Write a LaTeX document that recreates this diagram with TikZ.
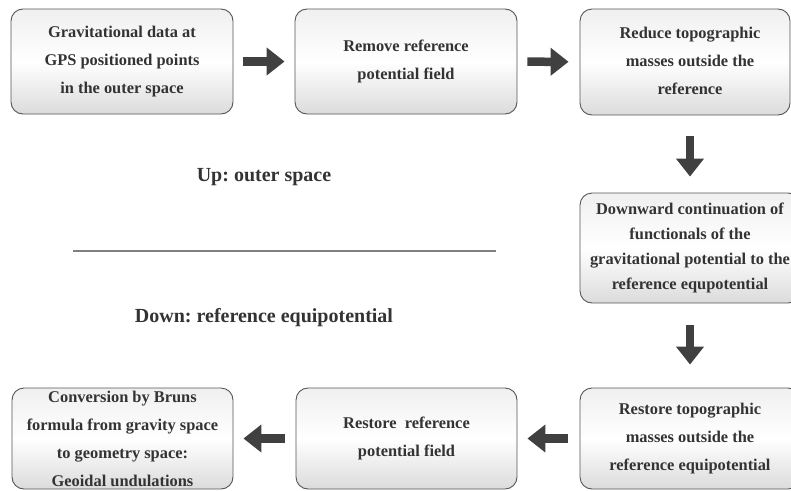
\documentclass[tikz,border=0pt]{standalone}
\usepackage{fontspec}
\setmainfont{Liberation Serif}
\usetikzlibrary{arrows.meta}
\definecolor{txt}{RGB}{51,51,51}
\definecolor{arr}{RGB}{64,64,64}
\definecolor{bord}{RGB}{85,85,85}
\definecolor{sep}{RGB}{128,128,128}
\frenchspacing
\begin{document}
\frenchspacing
\begin{tikzpicture}[x=1pt,y=-1pt,
  box/.style={draw=bord, line width=0.9pt, rounded corners=12pt,
    top color=gray!12, bottom color=gray!28, middle color=white,
    minimum width=222pt, minimum height=105pt, inner sep=0pt,
    align=center, text=txt, font=\fontsize{16.4}{28}\selectfont\bfseries},
  boxtext/.style={align=center, text=txt, inner sep=0pt,
    font=\fontsize{16.4}{28}\selectfont\bfseries},
  lbl/.style={text=txt, inner sep=0pt, font=\fontsize{20}{24}\selectfont\bfseries},
  blockarrow/.style={draw=arr, line width=8.5pt,
    -{Triangle[width=27pt,length=18pt]}}
]
\useasboundingbox (0,0) rectangle (791,490);
\clip (0,0) rectangle (791,490);

% top row
\node[box] (b1) at (122,61.5) {Gravitational data at\\GPS positioned points\\in the outer space};
\node[box] (b2) at (406,61.5) {Remove reference\\potential field};
\node[box, minimum width=210pt, minimum height=106pt] (b3) at (685,62) {};
\node[boxtext] (t3) at (690,61) {Reduce topographic\\masses outside the\\reference};

% right column
\node[box, minimum width=220pt, minimum height=110pt,
  font=\fontsize{16.4}{25}\selectfont\bfseries] (b4) at (690,248)
  {Downward continuation of\\functionals of the\\gravitational potential to the\\reference equpotential};

% bottom row
\node[box, minimum width=220pt, minimum height=101pt] (b5) at (690,438.5)
  {Restore topographic\\masses outside the\\reference equipotential};
\node[box, minimum width=221pt, minimum height=101pt] (b6) at (406.5,438.5)
  {Restore\ \ reference\\potential field};
\node[box, minimum width=221pt, minimum height=101pt] (b7) at (122.5,438.5)
  {Conversion by Bruns\\formula from gravity space\\to geometry space:\\Geoidal undulations};

% separator and labels
\node[lbl] (up) at (264,177) {Up: outer space};
\node[lbl] (down) at (264,318) {Down: reference equipotential};
\coordinate (sl) at (73,251);
\coordinate (sr) at (496,251);
\draw[sep, line width=1.2pt] (sl) -- (sr);

% arrows
\draw[blockarrow, shorten <=10pt, shorten >=10pt] (b1) -- (b2);
\draw[blockarrow, shorten <=10pt, shorten >=11pt] (b2) -- (b3);
\draw[blockarrow, shorten <=21pt, shorten >=16pt] (b3.south -| b4.north) -- (b4.north);
\draw[blockarrow, shorten <=22pt, shorten >=23pt] (b4) -- (b5);
\draw[blockarrow, shorten <=12pt, shorten >=10pt] (b5) -- (b6);
\draw[blockarrow, shorten <=11pt, shorten >=10pt] (b6) -- (b7);
\end{tikzpicture}
\end{document}
